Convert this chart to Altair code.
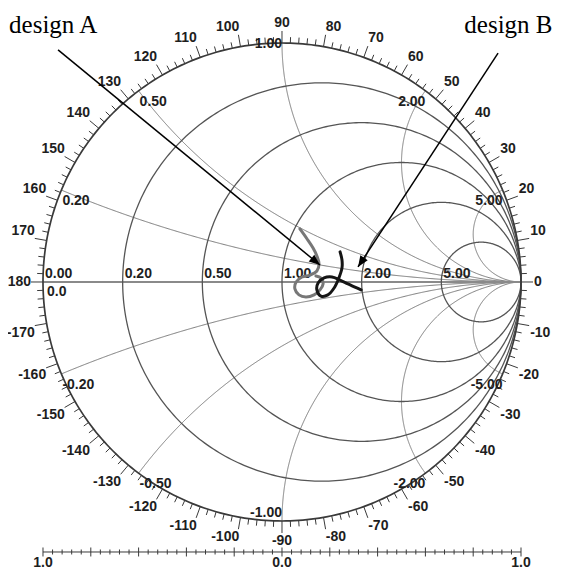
import numpy as np
import pandas as pd
import altair as alt

# ---------------- chart values ----------------
resistances = [0.0, 0.2, 0.5, 1.0, 2.0, 5.0]
resistance_labels = ["0.00", "0.20", "0.50", "1.00", "2.00", "5.00"]
reactances = [0.2, 0.5, 1.0, 2.0, 5.0, -0.2, -0.5, -1.0, -2.0, -5.0]
reactance_labels = ["0.20", "0.50", "1.00", "2.00", "5.00",
                    "-0.20", "-0.50", "-1.00", "-2.00", "-5.00"]
angle_ticks = list(range(-178, 181, 2))          # degrees
angle_labels = list(range(-170, 181, 10))         # degrees
ruler_ticks = [i * 0.04 for i in range(-25, 26)]  # |Gamma| scale
ruler_label_text = ["1.0", "0.0", "1.0"]
ruler_label_pos = [-1.0, 0.0, 1.0]

# measured curves (reflection coefficient, real / imaginary)
design_a_re = [0.075, 0.105, 0.130, 0.146, 0.155, 0.146, 0.117, 0.084, 0.059,
               0.054, 0.071, 0.100, 0.134, 0.159, 0.172, 0.163, 0.142]
design_a_im = [0.222, 0.180, 0.142, 0.109, 0.075, 0.046, 0.029, 0.021, 0.000,
               -0.029, -0.054, -0.063, -0.054, -0.033, -0.008, 0.017, 0.025]
design_b_re = [0.243, 0.251, 0.251, 0.238, 0.218, 0.192, 0.163, 0.146, 0.151,
               0.176, 0.209, 0.243, 0.276, 0.305, 0.331]
design_b_im = [0.126, 0.092, 0.059, 0.017, -0.025, -0.054, -0.059, -0.033, -0.004,
               0.017, 0.021, 0.008, -0.008, -0.021, -0.033]

# annotations
annot_text = ["design A", "design B"]
annot_re = [-1.142, 1.132]
annot_im = [1.042, 1.042]
arrow_from_re = [-0.937, 0.904]
arrow_from_im = [0.971, 0.958]
arrow_to_re = [0.159, 0.318]
arrow_to_im = [0.071, 0.063]

# ---------------- geometry ----------------
XS = alt.Scale(domain=[-1.14644, 1.13389], nice=False, zero=False)
YS = alt.Scale(domain=[-1.20921, 1.14644], nice=False, zero=False)
PX = 1 / 239.0  # one pixel in Gamma units


def xq(f):
    return alt.X(f, type="quantitative", scale=XS, axis=None)


def yq(f):
    return alt.Y(f, type="quantitative", scale=YS, axis=None)


rows = []
t = np.linspace(0, 2 * np.pi, 361)
for r in resistances:
    c, rad = r / (1 + r), 1 / (1 + r)
    for i, tt in enumerate(t):
        rows.append(dict(id=f"r{r}", kind="outer" if r == 0 else "res", o=i,
                         gx=c + rad * np.cos(tt), gy=rad * np.sin(tt)))
u = np.linspace(0, 1, 500)[:-1]
for x in reactances:
    rr = u / (1 - u)
    g = (rr - 1 + 1j * x) / (rr + 1 + 1j * x)
    g = np.append(g, 1 + 0j)
    for i, gg in enumerate(g):
        rows.append(dict(id=f"x{x}", kind="react", o=i, gx=gg.real, gy=gg.imag))
grid = pd.DataFrame(rows)


def grid_layer(kind, color, width):
    return alt.Chart(grid[grid.kind == kind]).mark_line(
        color=color, strokeWidth=width).encode(
        x=xq("gx"), y=yq("gy"), detail="id:N", order="o:Q")


react_layer = grid_layer("react", "#7a7a7a", 1.0)
res_layer = grid_layer("res", "#555555", 1.3)
outer_layer = grid_layer("outer", "#3a3a3a", 1.7)

axis_df = pd.DataFrame(dict(x1=[-1.0], x2=[1.0], y1=[0.0], y2=[0.0]))
axis_layer = alt.Chart(axis_df).mark_rule(color="#8a8a8a", strokeWidth=2).encode(
    x=xq("x1"), x2="x2:Q", y=yq("y1"), y2="y2:Q")

# angle ticks
tk = []
for a in angle_ticks:
    L = 12 * PX if a % 10 == 0 else 6 * PX
    ca, sa = np.cos(np.radians(a)), np.sin(np.radians(a))
    tk.append(dict(x1=ca, y1=sa, x2=(1 + L) * ca, y2=(1 + L) * sa))
tick_layer = alt.Chart(pd.DataFrame(tk)).mark_rule(color="#3a3a3a", strokeWidth=1).encode(
    x=xq("x1"), x2="x2:Q", y=yq("y1"), y2="y2:Q")

LABEL_FONT = dict(font="Liberation Sans", fontWeight="bold", fontSize=14, color="#1e1e1e")

# angle labels
al = []
for a in angle_labels:
    ca, sa = np.cos(np.radians(a)), np.sin(np.radians(a))
    align = "left" if ca > 0.01 else ("right" if ca < -0.01 else "center")
    base = "bottom" if sa > 0.01 else ("top" if sa < -0.01 else "middle")
    R = 1 + 13 * PX
    al.append(dict(txt=str(a), gx=R * ca, gy=R * sa, al=align, bl=base))
al = pd.DataFrame(al)
angle_layers = []
for (align, base), sub in al.groupby(["al", "bl"]):
    dx = 1 if align == "right" else 0
    angle_layers.append(alt.Chart(sub).mark_text(align=align, baseline=base, dx=dx,
                                                 **LABEL_FONT).encode(
        x=xq("gx"), y=yq("gy"), text="txt:N"))

# resistance labels on real axis
rl = pd.DataFrame(dict(txt=resistance_labels,
                       gx=[(r - 1) / (r + 1) for r in resistances],
                       gy=[0.0] * len(resistances)))
res_text = alt.Chart(rl).mark_text(align="left", baseline="bottom", dx=2, dy=-1, **LABEL_FONT).encode(
    x=xq("gx"), y=yq("gy"), text="txt:N")
zero_text = alt.Chart(pd.DataFrame(dict(txt=["0.0"], gx=[-1.0], gy=[0.0]))).mark_text(
    align="left", baseline="top", dx=4, dy=3, **LABEL_FONT).encode(
    x=xq("gx"), y=yq("gy"), text="txt:N")

# reactance labels at rim
xl = []
for x, lab in zip(reactances, reactance_labels):
    px_, py_ = (x * x - 1) / (x * x + 1), 2 * x / (x * x + 1)
    if abs(x) < 1:
        grp = "lt"
    elif x == 1:
        grp = "rm"
    elif x == -1:
        grp = "rb"
    else:
        grp = "rt"
    xl.append(dict(txt=lab, gx=px_, gy=py_, grp=grp))
xl = pd.DataFrame(xl)
grp_style = {"lt": dict(align="left", baseline="top", dx=1, dy=4),
             "rt": dict(align="right", baseline="top", dx=0, dy=4),
             "rm": dict(align="right", baseline="middle", dx=0, dy=1),
             "rb": dict(align="right", baseline="bottom", dx=0, dy=-1)}
react_text = []
for grp, sub in xl.groupby("grp"):
    react_text.append(alt.Chart(sub).mark_text(**grp_style[grp], **LABEL_FONT).encode(
        x=xq("gx"), y=yq("gy"), text="txt:N"))

# bottom ruler
RY = -270 * PX
ruler_line = alt.Chart(pd.DataFrame(dict(x1=[-1.0], x2=[1.0], y1=[RY], y2=[RY]))).mark_rule(
    color="#3a3a3a", strokeWidth=1).encode(x=xq("x1"), x2="x2:Q", y=yq("y1"), y2="y2:Q")
rt = []
for v in ruler_ticks:
    major = abs(round(v / 0.2) * 0.2 - v) < 1e-6
    h = (4.5 if major else 2.5) * PX
    rt.append(dict(x1=v, x2=v, y1=RY - h, y2=RY + h))
ruler_tick_layer = alt.Chart(pd.DataFrame(rt)).mark_rule(color="#3a3a3a", strokeWidth=1).encode(
    x=xq("x1"), x2="x2:Q", y=yq("y1"), y2="y2:Q")
ruler_text = alt.Chart(pd.DataFrame(dict(txt=ruler_label_text, gx=ruler_label_pos,
                                         gy=[RY] * 3))).mark_text(
    align="center", baseline="alphabetic", dy=15, **LABEL_FONT).encode(
    x=xq("gx"), y=yq("gy"), text="txt:N")

# measured curves
da = pd.DataFrame(dict(gx=design_a_re, gy=design_a_im, o=range(len(design_a_re))))
db = pd.DataFrame(dict(gx=design_b_re, gy=design_b_im, o=range(len(design_b_re))))
curve_a = alt.Chart(da).mark_line(color="#777777", strokeWidth=3, interpolate="catmull-rom",
                                  strokeCap="round", strokeJoin="round").encode(
    x=xq("gx"), y=yq("gy"), order="o:Q")
curve_b = alt.Chart(db).mark_line(color="#151515", strokeWidth=3, interpolate="catmull-rom",
                                  strokeCap="round", strokeJoin="round").encode(
    x=xq("gx"), y=yq("gy"), order="o:Q")

# arrows
ar = pd.DataFrame(dict(x1=arrow_from_re, y1=arrow_from_im, x2=arrow_to_re, y2=arrow_to_im))
ar["ang"] = (np.degrees(np.arctan2(ar.x2 - ar.x1, ar.y2 - ar.y1)) + 360) % 360
arrow_lines = alt.Chart(ar).mark_rule(color="black", strokeWidth=1.5).encode(
    x=xq("x1"), x2="x2:Q", y=yq("y1"), y2="y2:Q")
arrow_heads = alt.Chart(ar).mark_point(shape="M0,0L-0.4,1L0.4,1Z", filled=True, color="black",
                                       opacity=1, size=484, strokeWidth=0).encode(
    x=xq("x2"), y=yq("y2"), angle=alt.Angle("ang:Q", scale=None))

annot = pd.DataFrame(dict(txt=annot_text, gx=annot_re, gy=annot_im))
annot_a = alt.Chart(annot.iloc[[0]]).mark_text(align="left", baseline="alphabetic",
                                                font="Liberation Serif", fontSize=25,
                                                color="black").encode(
    x=xq("gx"), y=yq("gy"), text="txt:N")
annot_b = alt.Chart(annot.iloc[[1]]).mark_text(align="right", baseline="alphabetic",
                                                font="Liberation Serif", fontSize=25,
                                                color="black").encode(
    x=xq("gx"), y=yq("gy"), text="txt:N")

chart = alt.layer(
    react_layer, axis_layer, res_layer, outer_layer, tick_layer,
    *angle_layers, res_text, zero_text, *react_text,
    ruler_line, ruler_tick_layer, ruler_text,
    curve_a, curve_b, arrow_lines, arrow_heads, annot_a, annot_b,
).properties(
    width=545, height=563, padding=0,
    autosize=alt.AutoSizeParams(type="none"),
    background="white",
).configure_view(stroke=None)

chart.save("out.html", embed_options={"renderer": "svg", "actions": False})
